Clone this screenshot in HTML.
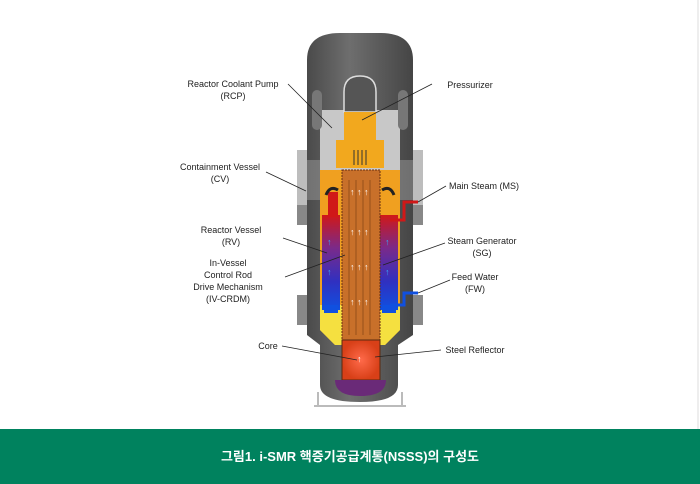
<!DOCTYPE html>
<html><head><meta charset="utf-8"><style>
body{margin:0;width:700px;height:484px;background:#fff;overflow:hidden;font-family:"Liberation Sans",sans-serif}
.band{position:absolute;left:0;top:429px;width:700px;height:55px;background:#00825e;color:#fff;text-align:center;font:bold 13px "Liberation Sans","Noto Sans CJK KR",sans-serif;line-height:55px}
svg{position:absolute;left:0;top:0}
text{font-family:"Liberation Sans",sans-serif;font-size:9px;fill:#222}
</style></head><body>
<svg width="700" height="429" viewBox="0 0 700 429">
<defs>
<linearGradient id="g" x1="0" x2="1"><stop offset="0" stop-color="#4a4a4a"/><stop offset=".4" stop-color="#6e6e6e"/><stop offset="1" stop-color="#454545"/></linearGradient>
<linearGradient id="sg" x1="0" y1="0" x2="0" y2="1"><stop offset="0" stop-color="#d01818"/><stop offset=".35" stop-color="#7a2a8a"/><stop offset=".7" stop-color="#3030c0"/><stop offset="1" stop-color="#1050e0"/></linearGradient>
<radialGradient id="core"><stop offset="0" stop-color="#ff6a4a"/><stop offset="1" stop-color="#d84018"/></radialGradient>
</defs>
<line x1="698" y1="0" x2="698" y2="429" stroke="#ddd"/>
<path d="M318 392 L318 406 M402 392 L402 406 M314 406 H406" stroke="#bbb" stroke-width="2" fill="none"/>
<rect x="297" y="150" width="126" height="65" fill="#bdbdbd"/>
<rect x="297" y="205" width="10" height="20" fill="#888"/><rect x="413" y="205" width="10" height="20" fill="#888"/>
<rect x="297" y="295" width="10" height="30" fill="#888"/><rect x="413" y="295" width="10" height="30" fill="#888"/>
<path d="M307 60 Q307 33 340 33 H380 Q413 33 413 60 V335 L398 345 V385 Q398 402 360 402 Q320 402 320 385 V345 L307 335 Z" fill="url(#g)"/>
<rect x="307" y="160" width="106" height="40" fill="#9a9a9a" opacity=".5"/>
<path d="M320 110 H344 V140 H376 V110 H400 V180 H320 Z" fill="#c8c8c8"/>
<rect x="312" y="90" width="10" height="40" rx="5" fill="#777"/><rect x="398" y="90" width="10" height="40" rx="5" fill="#777"/>
<path d="M344 112 V92 Q344 76 360 76 Q376 76 376 92 V112 Z" fill="#555" stroke="#ddd" stroke-width="1.5"/>
<path d="M344 112 H376 V140 H384 V168 H336 V140 H344 Z" fill="#f2a81e"/>
<path d="M354 150 V165 M358 150 V165 M362 150 V165 M366 150 V165" stroke="#333"/>
<path d="M320 170 H400 V330 L385 345 H335 L320 330 Z" fill="#f0a020"/>
<path d="M320 305 H400 V330 L385 345 H335 L320 330 Z" fill="#f5e040"/>
<rect x="322" y="215" width="18" height="95" fill="url(#sg)"/>
<rect x="380" y="215" width="18" height="95" fill="url(#sg)"/>
<rect x="328" y="192" width="10" height="25" fill="#d01818"/>
<rect x="342" y="170" width="38" height="210" fill="#c8702a" stroke="#6a3010" stroke-dasharray="2 1"/>
<path d="M349 180 V335 M356 180 V335 M363 180 V335 M370 180 V335" stroke="#8a4a18" stroke-width=".8"/>
<rect x="342" y="340" width="38" height="40" fill="url(#core)" stroke="#5a2a10"/>
<path d="M335 380 H386 Q386 396 360 396 Q335 396 335 380Z" fill="#6a2a78"/>
<g><text x="350" y="195" style="fill:#fff">↑ ↑ ↑</text><text x="350" y="235" style="fill:#fff">↑ ↑ ↑</text><text x="350" y="270" style="fill:#fff">↑ ↑ ↑</text><text x="350" y="305" style="fill:#fff">↑ ↑ ↑</text><text x="357" y="362" style="fill:#fff">↑</text></g>
<g><text x="327" y="245" style="fill:#3af">↑</text><text x="327" y="275" style="fill:#3af">↑</text><text x="385" y="245" style="fill:#3af">↑</text><text x="385" y="275" style="fill:#3af">↑</text></g>
<path d="M326 195 Q330 185 338 190" stroke="#222" stroke-width="3" fill="none"/><path d="M394 195 Q390 185 382 190" stroke="#222" stroke-width="3" fill="none"/>
<path d="M390 220 H404 V202 H418" stroke="#d01818" stroke-width="3" fill="none"/>
<path d="M390 305 H404 V293 H418" stroke="#1050e0" stroke-width="3" fill="none"/>
<rect x="324" y="305" width="14" height="8" fill="#1050e0"/><rect x="382" y="305" width="14" height="8" fill="#1050e0"/>
<g stroke="#222" stroke-width=".8" fill="none">
<line x1="288" y1="84" x2="332" y2="128"/>
<line x1="432" y1="84" x2="362" y2="120"/>
<line x1="266" y1="172" x2="306" y2="191"/>
<line x1="446" y1="186" x2="418" y2="202"/>
<line x1="283" y1="238" x2="327" y2="253"/>
<line x1="285" y1="277" x2="345" y2="255"/>
<line x1="445" y1="243" x2="383" y2="265"/>
<line x1="450" y1="280" x2="418" y2="293"/>
<line x1="282" y1="346" x2="357" y2="360"/>
<line x1="441" y1="350" x2="375" y2="357"/>
</g>
<g text-anchor="middle">
<text x="233" y="87">Reactor Coolant Pump</text><text x="233" y="99">(RCP)</text>
<text x="220" y="170">Containment Vessel</text><text x="220" y="182">(CV)</text>
<text x="231" y="233">Reactor Vessel</text><text x="231" y="245">(RV)</text>
<text x="228" y="266">In-Vessel</text><text x="228" y="278">Control Rod</text><text x="228" y="290">Drive Mechanism</text><text x="228" y="302">(IV-CRDM)</text>
<text x="268" y="349">Core</text>
<text x="470" y="88">Pressurizer</text>
<text x="484" y="189">Main Steam (MS)</text>
<text x="482" y="244">Steam Generator</text><text x="482" y="256">(SG)</text>
<text x="475" y="280">Feed Water</text><text x="475" y="292">(FW)</text>
<text x="475" y="353">Steel Reflector</text>
</g>
</svg>
<div class="band">그림1. i-SMR 핵증기공급계통(NSSS)의 구성도</div>
</body></html>
